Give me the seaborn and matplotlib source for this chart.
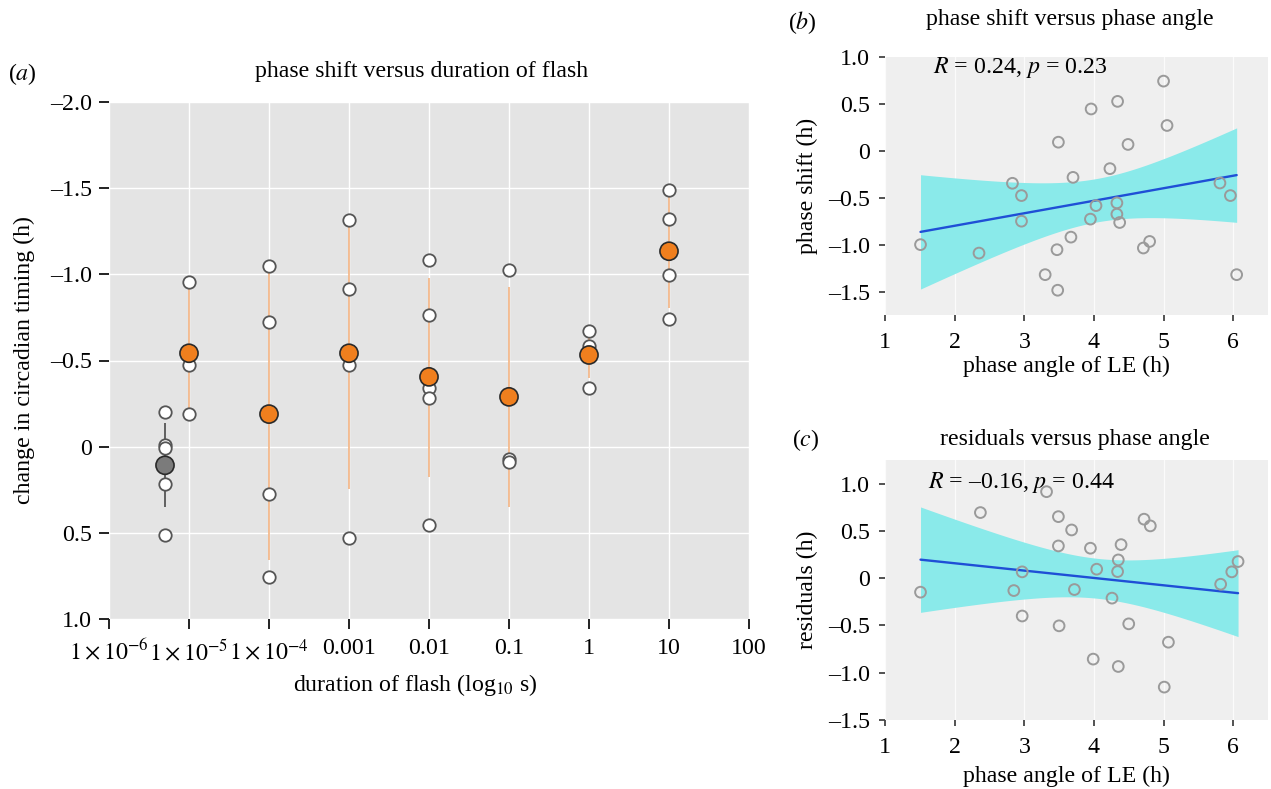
import numpy as np
import pandas as pd
import matplotlib
matplotlib.use("Agg")
import matplotlib.pyplot as plt
import seaborn as sns

# ---------------- data: panel (a) ----------------
group_names = ["control", "1e-5", "1e-4", "0.001", "0.01", "0.1", "1", "10"]
group_logx = [-5.3, -5, -4, -3, -2, -1, 0, 1]
indiv_values = [
    [-0.203, -0.01, 0.005, 0.216, 0.511],
    [-0.957, -0.474, -0.189],
    [-1.051, -0.722, 0.274, 0.756],
    [-1.318, -0.916, -0.474, 0.528],
    [-1.086, -0.762, -0.343, -0.282, 0.453],
    [-1.028, 0.071, 0.091],
    [-0.671, -0.584, -0.343],
    [-1.487, -1.319, -0.997, -0.743],
]
group_means = [0.108, -0.542, -0.189, -0.542, -0.405, -0.289, -0.532, -1.134]
err_low = [-0.135, -0.93, -1.04, -1.318, -0.98, -0.926, -0.70, -1.46]
err_high = [0.351, -0.17, 0.66, 0.245, 0.178, 0.351, -0.40, -0.806]
group_kind = ["control", "flash", "flash", "flash", "flash", "flash", "flash", "flash"]

a_xticks = [-6, -5, -4, -3, -2, -1, 0, 1, 2]
a_xticklabels = [r"$1\times10^{-6}$", r"$1\times10^{-5}$", r"$1\times10^{-4}$",
                 "0.001", "0.01", "0.1", "1", "10", "100"]
a_yticks = [-2.0, -1.5, -1.0, -0.5, 0.0, 0.5, 1.0]
a_yticklabels = ["\u20132.0", "\u20131.5", "\u20131.0", "\u20130.5", "0", "0.5", "1.0"]

# ---------------- data: panel (b) ----------------
b_x = [1.51, 2.35, 2.83, 2.96, 2.96, 3.30, 3.48, 3.47, 3.49, 3.67, 3.70, 3.95, 3.96, 4.03,
       4.23, 4.33, 4.33, 4.34, 4.37, 4.49, 4.71, 4.80, 5.00, 5.05, 5.81, 5.96, 6.05]
b_y = [-1.00, -1.09, -0.346, -0.477, -0.75, -1.32, -1.486, -1.054, 0.092, -0.92, -0.283,
       -0.728, 0.446, -0.584, -0.19, -0.555, -0.675, 0.527, -0.764, 0.068, -1.036, -0.966,
       0.743, 0.27, -0.343, -0.477, -1.32]

# ---------------- data: panel (c) ----------------
c_x = [1.51, 2.37, 2.85, 2.97, 2.97, 3.32, 3.49, 3.49, 3.50, 3.68, 3.72, 3.95, 3.99, 4.04,
       4.26, 4.34, 4.35, 4.39, 4.35, 4.50, 4.72, 4.81, 5.01, 5.07, 5.82, 5.98, 6.07]
c_y = [-0.148, 0.694, -0.131, 0.067, -0.40, 0.915, 0.651, 0.341, -0.504, 0.51, -0.12,
       0.317, -0.856, 0.095, -0.211, 0.07, 0.193, 0.355, -0.934, -0.483, 0.624, 0.553,
       -1.152, -0.677, -0.064, 0.067, 0.176]

bc_ticks_x = [1, 2, 3, 4, 5, 6]
bc_ticks_y = [-1.5, -1.0, -0.5, 0.0, 0.5, 1.0]
bc_ticklabels_y = ["\u20131.5", "\u20131.0", "\u20130.5", "0", "0.5", "1.0"]

T975_DF25 = 2.0595  # Student t 97.5% quantile, 25 degrees of freedom

# ---------------- style ----------------
sns.set_style("white")
plt.rcParams["font.family"] = ["Liberation Serif", "DejaVu Serif"]
plt.rcParams["mathtext.fontset"] = "stix"
plt.rcParams["text.color"] = "black"
plt.rcParams["axes.labelcolor"] = "black"
plt.rcParams["xtick.color"] = "black"
plt.rcParams["ytick.color"] = "black"
FS = 17.2

fig = plt.figure(figsize=(12.71, 7.89), dpi=100)
W, H = 1271, 789


def add_axes_px(left, top, right, bottom):
    return fig.add_axes([left / W, 1 - bottom / H, (right - left) / W, (bottom - top) / H])


axa = add_axes_px(109, 102, 749, 619)
axb = add_axes_px(885, 57, 1268, 315)
axc = add_axes_px(885, 460, 1268, 720)

# ---------------- panel (a) ----------------
axa.set_facecolor("#e4e4e4")
axa.grid(True, color="white", lw=1.0)
axa.set_axisbelow(True)

df_ind = pd.DataFrame({
    "logdur": np.concatenate([[lx] * len(v) for lx, v in zip(group_logx, indiv_values)]),
    "shift": np.concatenate(indiv_values),
})
df_mean = pd.DataFrame({"logdur": group_logx, "shift": group_means, "kind": group_kind})

line_cols = ["#4a4a4a" if k == "control" else "#f3b483" for k in group_kind]
axa.vlines(group_logx, err_low, err_high, colors=line_cols, lw=1.2, zorder=2)

sns.scatterplot(data=df_ind, x="logdur", y="shift", ax=axa, s=80, color="white",
                edgecolor="#555555", linewidth=1.3, zorder=3, legend=False)
sns.scatterplot(data=df_mean, x="logdur", y="shift", hue="kind", ax=axa, s=170,
                palette={"control": "#7b7b7b", "flash": "#f07f1e"},
                edgecolor="#2a2a2a", linewidth=1.2, zorder=4, legend=False)

axa.set_xlim(-6, 2)
axa.set_ylim(1.0, -2.0)
axa.set_xticks(a_xticks)
axa.set_xticklabels(a_xticklabels)
axa.set_yticks(a_yticks)
axa.set_yticklabels(a_yticklabels)
for s in axa.spines.values():
    s.set_visible(False)
axa.tick_params(axis="both", which="major", length=7, width=1.4, color="#222222",
                labelsize=FS, direction="out", bottom=True, left=True)
axa.tick_params(axis="x", pad=7)
axa.tick_params(axis="y", pad=5)
axa.set_xlabel(r"duration of flash (log$_{10}$ s)", fontsize=FS)
axa.set_ylabel("change in circadian timing (h)", fontsize=FS)
axa.xaxis.set_label_coords(0.478, -0.103)
axa.yaxis.set_label_coords(-0.115, 0.5)

fig.text(8 / W, 1 - 74 / H, "($a$)", fontsize=FS, ha="left", va="center")
fig.text(422 / W, 1 - 72 / H, "phase shift versus duration of flash", fontsize=FS,
         ha="center", va="center")


# ---------------- panels (b) and (c) ----------------
def style_bc(ax, ylim):
    ax.set_facecolor("#efefef")
    ax.grid(True, axis="x", color="white", lw=0.9, alpha=0.8)
    ax.set_axisbelow(True)
    ax.set_xlim(1, 6.5)
    ax.set_ylim(*ylim)
    ax.set_xticks(bc_ticks_x)
    ax.set_yticks(bc_ticks_y)
    ax.set_yticklabels(bc_ticklabels_y)
    for s in ax.spines.values():
        s.set_visible(False)
    ax.tick_params(axis="both", length=4, width=1.3, color="#444444", labelsize=FS,
                   direction="out", bottom=True, left=True)
    ax.tick_params(axis="x", pad=8)
    ax.tick_params(axis="y", pad=7)


def reg_panel(ax, x, y):
    x = np.asarray(x, float)
    y = np.asarray(y, float)
    # linear fit with t-based 95% confidence band (as in a linear-model smoother)
    slope, icpt = np.polyfit(x, y, 1)
    n = len(x)
    resid = y - (icpt + slope * x)
    s_err = np.sqrt(np.sum(resid ** 2) / (n - 2))
    sxx = np.sum((x - x.mean()) ** 2)
    grid = np.linspace(x.min(), x.max(), 100)
    fit = icpt + slope * grid
    half = T975_DF25 * s_err * np.sqrt(1 / n + (grid - x.mean()) ** 2 / sxx)
    ax.fill_between(grid, fit - half, fit + half, color="#8aeaea", lw=0, zorder=2)
    sns.regplot(x=x, y=y, ax=ax, scatter=False, ci=None, truncate=True,
                line_kws=dict(color="#1f4fd6", lw=1.7, zorder=3))
    sns.scatterplot(x=x, y=y, ax=ax, s=60, facecolor="none", edgecolor="#9a9a9a",
                    linewidth=1.4, zorder=4, legend=False)


reg_panel(axb, b_x, b_y)
style_bc(axb, (-1.75, 1.0))
axb.set_xlabel("phase angle of LE (h)", fontsize=FS)
axb.set_ylabel("phase shift (h)", fontsize=FS)
axb.xaxis.set_label_coords(0.475, -0.158)
axb.yaxis.set_label_coords(-0.175, 0.5)
axb.text(0.125, 0.961, "$R$ = 0.24, $p$ = 0.23", transform=axb.transAxes,
         fontsize=FS, ha="left", va="center")

reg_panel(axc, c_x, c_y)
style_bc(axc, (-1.5, 1.25))
axc.set_xlabel("phase angle of LE (h)", fontsize=FS)
axc.set_ylabel("residuals (h)", fontsize=FS)
axc.xaxis.set_label_coords(0.475, -0.176)
axc.yaxis.set_label_coords(-0.175, 0.5)
axc.text(0.112, 0.912, "$R$ = \u20130.16, $p$ = 0.44", transform=axc.transAxes,
         fontsize=FS, ha="left", va="center")

fig.text(788 / W, 1 - 23 / H, "($b$)", fontsize=FS, ha="left", va="center")
fig.text(1070 / W, 1 - 20 / H, "phase shift versus phase angle", fontsize=FS,
         ha="center", va="center")
fig.text(792 / W, 1 - 440 / H, "($c$)", fontsize=FS, ha="left", va="center")
fig.text(1075 / W, 1 - 440 / H, "residuals versus phase angle", fontsize=FS,
         ha="center", va="center")

fig.savefig("out.png", dpi=100)
